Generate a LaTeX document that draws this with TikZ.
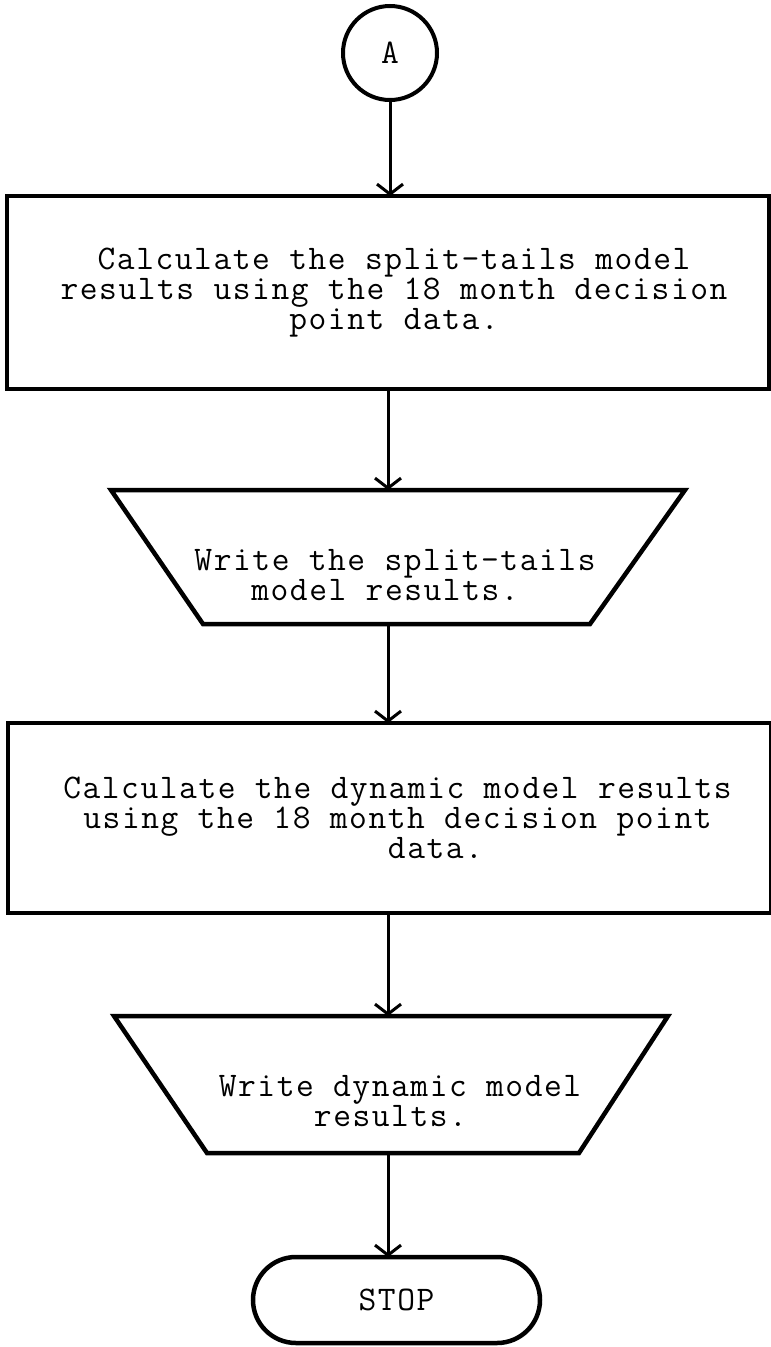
\documentclass[tikz,border=0pt]{standalone}
\usepackage{fontspec}
\setmonofont{Latin Modern Mono}[LetterSpace=4.5]
\usetikzlibrary{arrows.meta}
\begin{document}
\begin{tikzpicture}[x=1pt,y=-1pt,
  every node/.style={font=\ttfamily\fontsize{34.5}{28}\selectfont, align=center, outer sep=0pt, inner sep=0pt},
  procbox/.style={draw, line width=4.5pt, rectangle},
  outline/.style={draw, line width=4.5pt, line join=miter},
  connector/.style={draw, line width=4pt, circle},
  terminal/.style={draw, line width=4.5pt, rectangle, rounded corners=43pt},
  flow/.style={line width=3pt, -{Straight Barb[length=10pt,width=26pt,line width=3pt]}},
]
\useasboundingbox (0,0) rectangle (771,1347);
\coordinate (axis) at (388,0);

% connector circle at the top
\node[connector, minimum size=94pt] (A) at (390,53) {A};

% first process box
\node[procbox, minimum width=762pt, minimum height=193pt] (calc1) at (388,292.5) {};
\node (calc1txt) at ([xshift=6pt]calc1.center)
  {Calculate the split-tails model\\results using the 18 month decision\\point data.};

% first output shape (wide top, narrow bottom)
\coordinate (out1tl) at (111,490);
\coordinate (out1tr) at (685,490);
\coordinate (out1br) at (590,624);
\coordinate (out1bl) at (203,624);
\draw[outline] (out1tl) -- (out1tr) -- (out1br) -- (out1bl) -- cycle;
\node (out1) at (395,575) {Write the split-tails\\model results.\hspace*{20pt}};

% second process box
\node[procbox, minimum width=763pt, minimum height=190pt] (calc2) at (389.5,818) {};
\node (calc2txt) at ([xshift=8pt]calc2.center)
  {Calculate the dynamic model results\\using the 18 month decision point\\\hspace*{76pt}data.};

% second output shape
\coordinate (out2tl) at (114,1016);
\coordinate (out2tr) at (668,1016);
\coordinate (out2br) at (579,1153);
\coordinate (out2bl) at (207,1153);
\draw[outline] (out2tl) -- (out2tr) -- (out2br) -- (out2bl) -- cycle;
\node (out2) at (400,1101) {Write dynamic model\\results.\hspace*{19pt}};

% terminal
\node[terminal, minimum width=287pt, minimum height=86pt] (stop) at (396.5,1300) {STOP};

% flow lines
\draw[flow] (A) -- (A |- calc1.north);
\draw[flow] (calc1.south -| axis) -- (out1tl -| axis);
\draw[flow] (out1bl -| axis) -- (calc2.north -| axis);
\draw[flow] (calc2.south -| axis) -- (out2tl -| axis);
\draw[flow] (out2bl -| axis) -- (stop.north -| axis);
\end{tikzpicture}
\end{document}
